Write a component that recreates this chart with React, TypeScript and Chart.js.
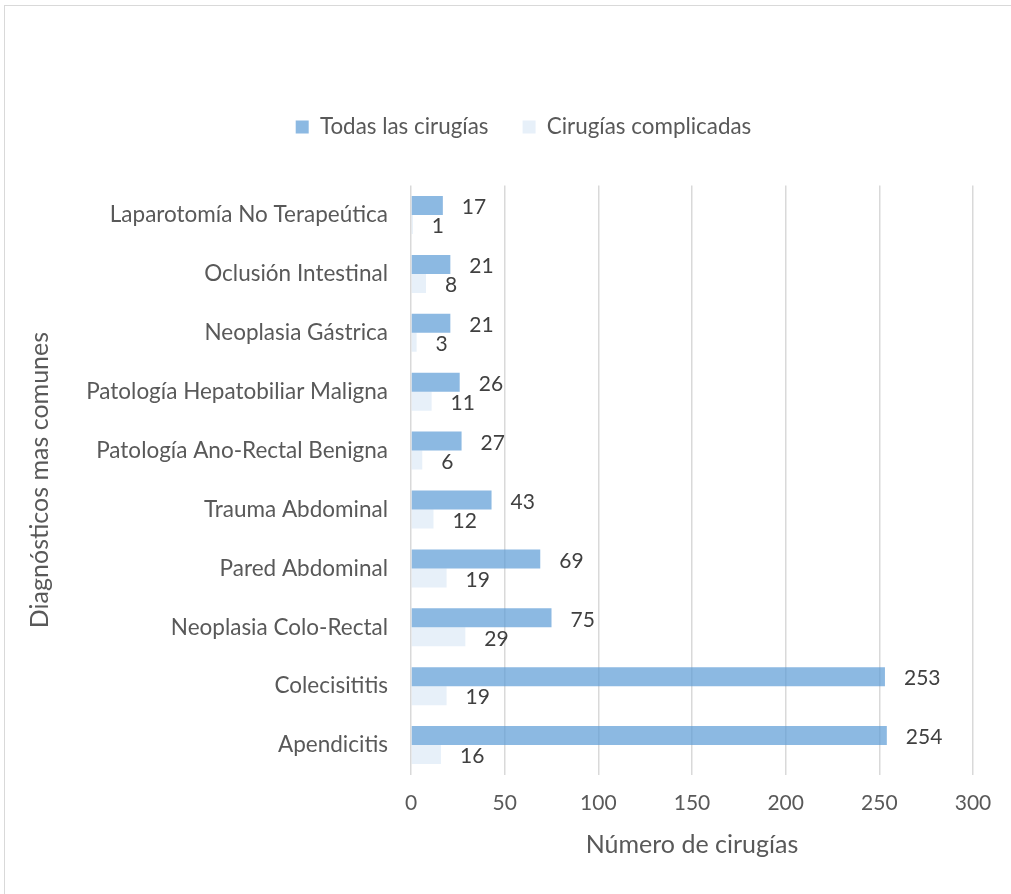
import React, { useEffect, useRef } from 'react';
import { Chart, registerables } from 'chart.js';

Chart.register(...registerables);

const FONT = 'Lato, "Open Sans", sans-serif';

const categories = [
  'Laparotomía No Terapeútica',
  'Oclusión Intestinal',
  'Neoplasia Gástrica',
  'Patología Hepatobiliar Maligna',
  'Patología Ano-Rectal Benigna',
  'Trauma Abdominal',
  'Pared Abdominal',
  'Neoplasia Colo-Rectal',
  'Colecisititis',
  'Apendicitis',
];

const allSurgeries = [17, 21, 21, 26, 27, 43, 69, 75, 253, 254];
const complicatedSurgeries = [1, 8, 3, 11, 6, 12, 19, 29, 19, 16];

const seriesNames = ['Todas las cirugías', 'Cirugías complicadas'];
const xAxisTitle = 'Número de cirugías';
const yAxisTitle = 'Diagnósticos mas comunes';
const xMin = 0;
const xMax = 300;
const xStep = 50;

const valueLabels = {
  id: 'valueLabels',
  afterDatasetsDraw(chart: any) {
    const ctx = chart.ctx;
    ctx.save();
    ctx.font = `21px ${FONT}`;
    ctx.fillStyle = '#404040';
    ctx.textAlign = 'left';
    ctx.textBaseline = 'middle';
    chart.data.datasets.forEach((ds: any, i: number) => {
      const meta = chart.getDatasetMeta(i);
      meta.data.forEach((bar: any, j: number) => {
        ctx.fillText(String(ds.data[j]), bar.x + 19, bar.y + 2);
      });
    });
    ctx.restore();
  },
};

const legendSpacer = {
  id: 'legendSpacer',
  beforeLayout(chart: any) {
    const lg = chart.legend;
    if (lg && !lg.__patched) {
      const orig = lg.fit.bind(lg);
      lg.fit = function () {
        orig();
        this.height += 37.4;
      };
      lg.__patched = true;
    }
  },
  afterLayout(chart: any) {
    const lg = chart.legend;
    if (lg) {
      lg.left += 37;
      lg.right += 37;
    }
  },
};

export default function App() {
  const ref = useRef<HTMLCanvasElement | null>(null);

  useEffect(() => {
    if (!ref.current) return;
    const chart = new Chart(ref.current, {
      type: 'bar',
      data: {
        labels: categories,
        datasets: [
          {
            label: seriesNames[0],
            data: allSurgeries,
            backgroundColor: 'rgba(91,155,213,0.7)',
            borderWidth: 0,
          },
          {
            label: seriesNames[1],
            data: complicatedSurgeries,
            backgroundColor: 'rgba(91,155,213,0.15)',
            borderWidth: 0,
          },
        ],
      },
      options: {
        indexAxis: 'y',
        responsive: false,
        animation: false,
        devicePixelRatio: 1,
        layout: { padding: { top: 81.8, left: 0, right: 38, bottom: 0 } },
        datasets: {
          bar: { barPercentage: 1, categoryPercentage: 0.645 },
        },
        plugins: {
          tooltip: { enabled: false },
          legend: {
            position: 'top',
            labels: {
              boxWidth: 13,
              boxHeight: 13,
              padding: 34,
              color: '#595959',
              font: { family: FONT, size: 22.4 },
            },
          },
        },
        scales: {
          x: {
            type: 'linear',
            min: xMin,
            max: xMax,
            ticks: {
              stepSize: xStep,
              color: '#595959',
              font: { family: FONT, size: 21 },
              padding: 16,
            },
            grid: { color: '#d9d9d9', lineWidth: 1.5, drawTicks: false },
            border: { display: false },
            title: {
              display: true,
              text: xAxisTitle,
              color: '#595959',
              font: { family: FONT, size: 25 },
              padding: { top: 0, bottom: 34 },
            },
            afterFit(scale: any) {
              scale.height = 119.5;
            },
          },
          y: {
            type: 'category',
            ticks: {
              color: '#595959',
              font: { family: FONT, size: 22.5 },
              padding: 23,
            },
            grid: { display: false, drawTicks: false },
            border: { display: false },
            title: {
              display: true,
              text: yAxisTitle,
              color: '#595959',
              font: { family: FONT, size: 25 },
              padding: { top: 25, bottom: 0 },
            },
            afterFit(scale: any) {
              scale.width = 411;
            },
          },
        },
      },
      plugins: [valueLabels, legendSpacer],
    });
    return () => chart.destroy();
  }, []);

  return (
    <div
      style={{
        position: 'fixed',
        left: 0,
        top: 0,
        width: 1011,
        height: 894,
        background: '#fff',
        overflow: 'hidden',
      }}
    >
      <div
        style={{
          position: 'absolute',
          left: 4,
          top: 5,
          width: 1030,
          height: 920,
          borderTop: '1.5px solid #d9d9d9',
          borderLeft: '1.5px solid #d9d9d9',
        }}
      />
      <canvas
        ref={ref}
        width={1011}
        height={894}
        style={{ position: 'absolute', left: 0, top: 0, width: 1011, height: 894 }}
      />
    </div>
  );
}
